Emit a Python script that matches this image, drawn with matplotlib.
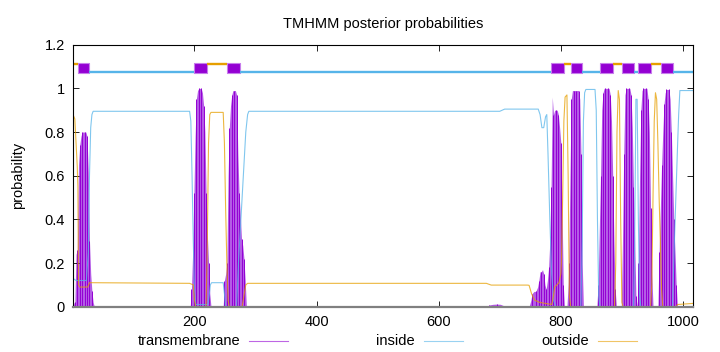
import numpy as np
import matplotlib
matplotlib.use("Agg")
import matplotlib.pyplot as plt
from matplotlib.lines import Line2D

plt.rcParams['font.family'] = ['Liberation Sans', 'DejaVu Sans']

# posterior probabilities (residue, value)
tm_res = [1, 3, 4, 6, 8, 10, 12, 14, 16, 18, 20, 22, 24, 26, 28, 30, 32, 34, 36,
          193, 195, 197, 199, 201, 203, 205, 207, 209, 211, 213, 215, 217, 219, 221, 223, 225, 227,
          247, 249, 251, 253, 255, 257, 259, 261, 263, 265, 267, 269, 271, 273, 275, 277, 279, 281, 283, 285,
          635, 640, 645, 650, 679, 683, 689, 695, 701, 706, 709,
          748, 751, 753, 756, 759, 762, 764, 766, 768, 770, 772, 774, 776, 778, 780, 782, 784, 786, 788,
          790, 792, 794, 796, 798, 800, 802, 804, 806,
          810, 812, 813, 815, 817, 819, 821, 823, 825, 827, 829, 831, 833, 835, 837,
          859, 861, 863, 865, 867, 869, 871, 873, 875, 877, 879, 881, 883, 885, 887, 889, 891,
          899, 901, 903, 905, 907, 909, 911, 913, 915, 917, 919, 921, 923, 925,
          927, 929, 931, 933, 935, 937, 939, 941, 943, 945, 947, 949, 951,
          959, 961, 963, 965, 967, 969, 971, 973, 975, 977, 979, 981, 983, 985, 987, 989, 991]
tm_val = [0.0, 0.02, 0.02, 0.24, 0.26, 0.65, 0.74, 0.78, 0.80, 0.80, 0.80, 0.80, 0.78, 0.62, 0.30, 0.15, 0.07, 0.02, 0.0,
          0.0, 0.08, 0.25, 0.52, 0.78, 0.95, 0.99, 1.0, 1.0, 1.0, 0.98, 0.92, 0.80, 0.52, 0.33, 0.2, 0.06, 0.0,
          0.0, 0.12, 0.15, 0.2, 0.6, 0.82, 0.92, 0.97, 0.99, 0.99, 0.99, 0.97, 0.70, 0.52, 0.42, 0.31, 0.28, 0.22, 0.12, 0.0,
          0.0, 0.004, 0.004, 0.0, 0.0, 0.008, 0.011, 0.012, 0.011, 0.005, 0.0,
          0.0, 0.03, 0.06, 0.07, 0.07, 0.09, 0.12, 0.16, 0.16, 0.17, 0.15, 0.10, 0.08, 0.12, 0.18, 0.30, 0.55, 0.96, 0.88,
          0.90, 0.90, 0.90, 0.88, 0.82, 0.75, 0.45, 0.10, 0.0,
          0.0, 0.1, 0.2, 0.6, 0.95, 0.99, 0.99, 0.99, 0.99, 0.99, 0.99, 0.95, 0.7, 0.2, 0.0,
          0.0, 0.1, 0.35, 0.6, 0.9, 0.98, 1.0, 1.0, 1.0, 1.0, 1.0, 0.97, 0.85, 0.6, 0.3, 0.08, 0.0,
          0.0, 0.3, 0.7, 0.97, 1.0, 1.0, 1.0, 1.0, 0.97, 0.82, 0.55, 0.3, 0.05, 0.0,
          0.2, 0.6, 0.9, 0.99, 1.0, 1.0, 1.0, 1.0, 0.95, 0.8, 0.45, 0.15, 0.0,
          0.0, 0.25, 0.45, 0.65, 0.8, 0.93, 0.98, 0.995, 0.995, 0.995, 0.95, 0.8, 0.6, 0.4, 0.25, 0.1, 0.0]

in_res = [1, 6, 23, 26, 28, 30, 32, 34, 192, 194, 196, 198, 200, 202, 222, 224, 226, 228, 247, 249, 251,
          269, 272, 275, 278, 281, 284, 287, 289, 700, 708, 763, 766, 769, 772, 775, 777, 779, 782, 785,
          788, 792, 833, 835, 837, 839, 841, 856, 858, 860, 862, 864, 919, 921, 923, 925, 927, 929, 931,
          983, 985, 987, 989, 991, 993, 995, 1016]
in_val = [0.13, 0.12, 0.12, 0.25, 0.6, 0.82, 0.88, 0.895, 0.895, 0.85, 0.6, 0.3, 0.08, 0.01, 0.01, 0.05, 0.1, 0.11, 0.11, 0.06, 0.0,
          0.0, 0.2, 0.35, 0.5, 0.65, 0.8, 0.88, 0.895, 0.895, 0.905, 0.905, 0.88, 0.82, 0.82, 0.87, 0.88, 0.7, 0.4, 0.15,
          0.03, 0.0, 0.0, 0.3, 0.85, 0.98, 0.995, 0.995, 0.9, 0.4, 0.05, 0.0, 0.0, 0.3, 0.95, 0.95, 0.4, 0.05, 0.0,
          0.0, 0.2, 0.38, 0.55, 0.72, 0.88, 0.99, 0.99]

out_res = [1, 4, 6, 8, 9, 10, 12, 25, 28, 192, 198, 200, 202, 219, 221, 223, 225, 227, 247, 249, 251, 253,
           255, 257, 278, 281, 284, 287, 678, 686, 745, 748, 752, 757, 765, 775, 785, 788, 790, 797, 800,
           801, 803, 805, 807, 810, 812, 814, 816, 888, 890, 892, 894, 896, 898, 900, 902, 947, 949, 951,
           953, 955, 957, 959, 961, 963, 965, 967, 989, 991, 1016]
out_val = [0.88, 0.86, 0.75, 0.64, 0.55, 0.10, 0.09, 0.09, 0.11, 0.107, 0.10, 0.03, 0.0, 0.0, 0.3, 0.75, 0.88, 0.89, 0.89, 0.75, 0.45, 0.2,
           0.03, 0.0, 0.0, 0.05, 0.1, 0.107, 0.107, 0.099, 0.099, 0.098, 0.06, 0.03, 0.02, 0.015, 0.01, 0.05, 0.09, 0.11, 0.15,
           0.2, 0.5, 0.85, 0.96, 0.97, 0.6, 0.05, 0.0, 0.0, 0.2, 0.8, 0.99, 0.95, 0.4, 0.02, 0.0, 0.0, 0.1, 0.5,
           0.85, 0.98, 0.95, 0.75, 0.5, 0.3, 0.08, 0.0, 0.0, 0.01, 0.015]

# predicted topology (start, end)
tm_seg = [(10, 28), (199, 221), (254, 275), (784, 805), (816, 834), (864, 886), (901, 920), (927, 948), (964, 984)]
in_seg = [(28, 199), (275, 784), (834, 864), (920, 927), (984, 1016)]
out_seg = [(1, 10), (221, 254), (805, 816), (886, 901), (948, 964)]

seq_len = 1016
c_tm, c_in, c_out = '#9400d3', '#56b4e9', '#e69f00'

fig = plt.figure(figsize=(7.2, 3.52), dpi=100)
ax = fig.add_axes([73 / 720, (352 - 306.7) / 352, (692.7 - 73) / 720, (306.7 - 44.7) / 352])

# transmembrane as impulses
ax.fill_between(tm_res, tm_val, 0, color='#b45ce6', lw=0)
ax.vlines(tm_res[::2], 0, tm_val[::2], color=c_tm, lw=0.7)
ax.plot(in_res, in_val, color=c_in, lw=0.8, alpha=0.75)
ax.plot(out_res, out_val, color=c_out, lw=0.8, alpha=0.75)

# topology strip on top
ax.hlines([1.074] * len(in_seg), [s for s, e in in_seg], [e for s, e in in_seg], color=c_in, lw=1.7)
ax.hlines([1.113] * len(out_seg), [s for s, e in out_seg], [e for s, e in out_seg], color=c_out, lw=1.7)
ax.broken_barh([(s, e - s) for s, e in tm_seg], (1.072, 0.043), facecolor=c_tm, edgecolor='#c77dec', lw=0.8)

ax.set_xlim(1, seq_len)
ax.set_ylim(0, 1.2)
ax.set_xticks([200, 400, 600, 800, 1000])
ax.set_yticks([0, 0.2, 0.4, 0.6, 0.8, 1.0, 1.2])
ax.set_yticklabels(['0', '0.2', '0.4', '0.6', '0.8', '1', '1.2'])
ax.tick_params(direction='in', length=4, width=0.6, top=True, right=True, labelsize=10.5, pad=6, colors='#000000')
for sp in ax.spines.values():
    sp.set_linewidth(0.8)
ax.spines['bottom'].set_color('#808080')
ax.spines['bottom'].set_linewidth(1.6)
ax.set_ylabel('probability', fontsize=10.5, labelpad=14)
ax.set_title('TMHMM posterior probabilities', fontsize=10.5, pad=12)

# gnuplot style key under the plot
for label, xr, col in [('transmembrane', 240, c_tm), ('inside', 415, c_in), ('outside', 589, c_out)]:
    fig.text(xr / 720, 1 - 341 / 352, label, ha='right', va='center', fontsize=10.5)
    fig.add_artist(Line2D([(xr + 9) / 720, (xr + 48) / 720], [1 - 341 / 352] * 2,
                          color=col, lw=0.8, alpha=0.6, transform=fig.transFigure))

fig.savefig('out.png', dpi=100)
